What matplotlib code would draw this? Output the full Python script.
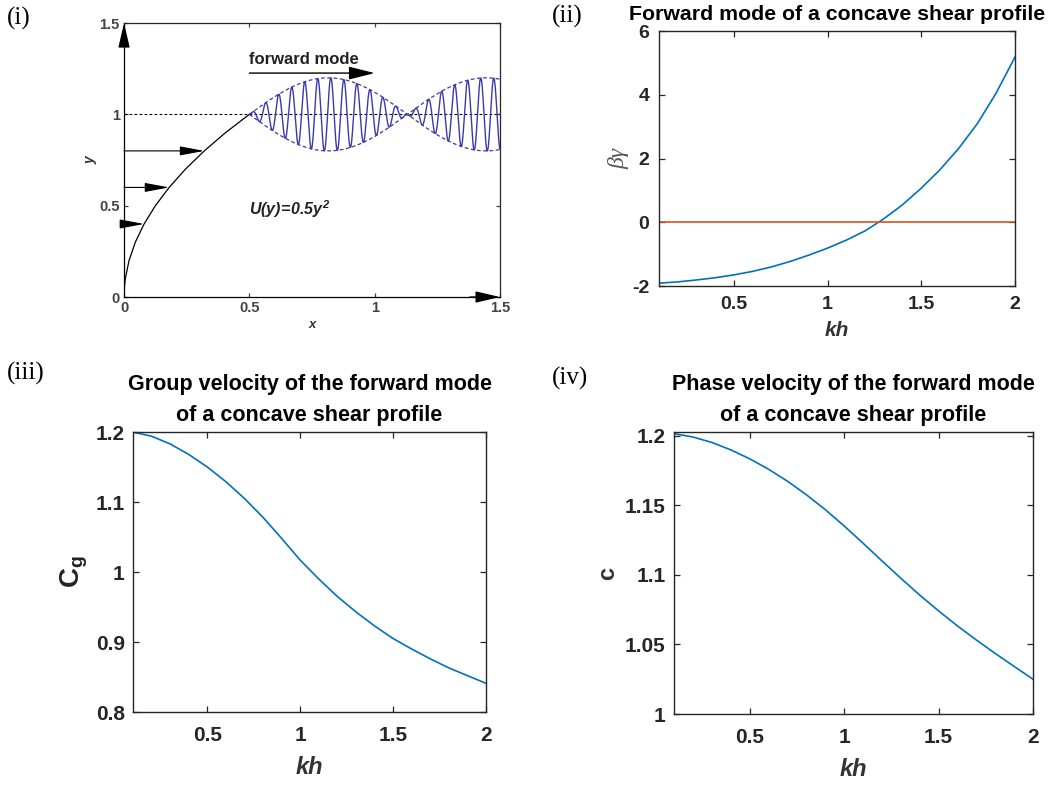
import numpy as np
import matplotlib.pyplot as plt

plt.rcParams['font.family'] = ['Liberation Sans', 'DejaVu Sans']
plt.rcParams['mathtext.fontset'] = 'custom'
plt.rcParams['mathtext.rm'] = 'Liberation Sans:italic:bold'
plt.rcParams['mathtext.it'] = 'Liberation Sans:italic:bold'
plt.rcParams['mathtext.bf'] = 'Liberation Sans:bold'

TICKC = '#262626'
BLUE = '#0072BD'
ORANGE = '#D95319'
WAVE = '#3a3aac'

# ---- panel (i): shear profile sketch ----
prof_y = [0.0, 0.05, 0.1, 0.2, 0.3, 0.4, 0.5, 0.6, 0.7, 0.8, 0.9, 1.0]
prof_x = [0.0, 0.00125, 0.005, 0.02, 0.045, 0.08, 0.125, 0.18, 0.245, 0.32, 0.405, 0.5]
arrow_y = [0.4, 0.6, 0.8]
arrow_x = [0.08, 0.18, 0.32]
i_ticks = [0, 0.5, 1, 1.5]
i_ticklabels = ['0', '0.5', '1', '1.5']
# wave packet parameters
pkt_start = 0.5
pkt_node = 1.13
pkt_amp = 0.2
pkt_wavelen = 0.052

# ---- panels (ii)-(iv) ----
kh = [0.1, 0.2, 0.3, 0.4, 0.5, 0.6, 0.7, 0.8, 0.9, 1.0,
      1.1, 1.2, 1.3, 1.4, 1.5, 1.6, 1.7, 1.8, 1.9, 2.0]
beta_gamma = [-1.91, -1.87, -1.81, -1.74, -1.65, -1.54, -1.40, -1.23, -1.03, -0.81,
              -0.56, -0.27, 0.11, 0.55, 1.07, 1.65, 2.32, 3.10, 4.06, 5.18]
group_vel = [1.200, 1.194, 1.183, 1.168, 1.150, 1.129, 1.105, 1.078, 1.048, 1.017,
             0.990, 0.965, 0.943, 0.923, 0.905, 0.890, 0.876, 0.863, 0.852, 0.841]
phase_vel = [1.2014, 1.1990, 1.1951, 1.1898, 1.1834, 1.1759, 1.1673, 1.1576, 1.1469, 1.1352,
             1.1228, 1.1101, 1.0976, 1.0855, 1.0741, 1.0633, 1.0532, 1.0435, 1.0342, 1.0250]
kh_ticks = [0.5, 1, 1.5, 2]
kh_ticklabels = ['0.5', '1', '1.5', '2']
bg_ticks = [-2, 0, 2, 4, 6]
cg_ticks = [0.8, 0.9, 1.0, 1.1, 1.2]
cg_ticklabels = ['0.8', '0.9', '1', '1.1', '1.2']
c_ticks = [1.0, 1.05, 1.1, 1.15, 1.2]
c_ticklabels = ['1', '1.05', '1.1', '1.15', '1.2']


def matlab_box(ax, lw=1.0, pad=5):
    for s in ax.spines.values():
        s.set_color(TICKC)
        s.set_linewidth(lw)
    ax.tick_params(direction='in', top=True, right=True, length=4,
                   width=0.9, colors=TICKC, pad=pad)


def bold_ticks(ax, size):
    for lab in ax.get_xticklabels() + ax.get_yticklabels():
        lab.set_fontweight('bold')
        lab.set_fontsize(size)


fig = plt.figure(figsize=(10.61, 7.86), dpi=100)

# (i)
ax1 = fig.add_axes([0.1169, 0.6221, 0.3544, 0.3486])
ax1.set_xlim(0, 1.5)
ax1.set_ylim(0, 1.5)
matlab_box(ax1, lw=0.9)
ax1.spines['left'].set_color('k')
ax1.spines['bottom'].set_color('k')
ax1.set_xticks(i_ticks, i_ticklabels)
ax1.set_yticks(i_ticks, i_ticklabels)
bold_ticks(ax1, 10.5)
ax1.tick_params(length=3, pad=3)
ax1.tick_params(axis='y', colors='#444444')
ax1.tick_params(axis='x', colors='#444444')
ax1.plot(prof_x, prof_y, color='k', lw=0.9)
ax1.plot([0, 1.5], [1, 1], color='k', lw=0.8, ls=(0, (2.5, 2)))
for xa, ya in zip(arrow_x, arrow_y):
    ax1.annotate('', xy=(xa, ya), xytext=(0, ya),
                 arrowprops=dict(arrowstyle='-|>,head_length=1.5,head_width=0.28',
                                 color='k', lw=0.8, shrinkA=0, shrinkB=0,
                                 mutation_scale=10))
for xy, xyt in [((0, 1.5), (0, 1.38)), ((1.5, 0), (1.38, 0))]:
    ax1.annotate('', xy=xy, xytext=xyt, annotation_clip=False,
                 arrowprops=dict(arrowstyle='-|>,head_length=1.5,head_width=0.35',
                                 color='k', lw=1.0, shrinkA=0, shrinkB=0,
                                 mutation_scale=10))
wx = np.linspace(pkt_start, 1.5, 3000)
env = pkt_amp * np.sin(np.pi * (wx - pkt_start) / (pkt_node - pkt_start))
ax1.plot(wx, 1 + env * np.sin(2 * np.pi * (wx - pkt_start) / pkt_wavelen),
         color=WAVE, lw=1.0)
ax1.plot(wx, 1 + env, color=WAVE, lw=0.9, ls=(0, (3, 2)))
ax1.plot(wx, 1 - env, color=WAVE, lw=0.9, ls=(0, (3, 2)))
ax1.annotate('', xy=(1.0, 1.226), xytext=(0.5, 1.226),
             arrowprops=dict(arrowstyle='-|>,head_length=1.6,head_width=0.4',
                             color='k', lw=1.0, shrinkA=0, shrinkB=0,
                             mutation_scale=10))
ax1.text(0.5, 1.3, 'forward mode', fontsize=12, fontweight='bold', color='#222222',
         ha='left', va='center')
ax1.text(0.5, 0.48, r'$U(y)\!=\!0.5y^2$', fontsize=11.5, color='#222222',
         ha='left', va='center')
ax1.set_xlabel('x', fontsize=9.5, fontweight='bold', style='italic', labelpad=3,
               color='#333333')
ax1.set_ylabel('y', fontsize=10, fontweight='bold', style='italic', labelpad=1,
               color='#333333')

# (ii)
ax2 = fig.add_axes([0.6211, 0.6361, 0.3355, 0.3244])
ax2.plot(kh, beta_gamma, color=BLUE, lw=1.2)
ax2.plot([kh[0], kh[-1]], [0, 0], color=ORANGE, lw=1.2)
ax2.set_xlim(0.1, 2)
ax2.set_ylim(-2, 6)
matlab_box(ax2, pad=7)
ax2.set_xticks(kh_ticks, kh_ticklabels)
ax2.set_yticks(bg_ticks, [str(t) for t in bg_ticks])
bold_ticks(ax2, 14)
ax2.set_title('Forward mode of a concave shear profile', fontsize=15.3,
              fontweight='bold', pad=8)
ax2.set_xlabel('kh', fontsize=15, fontweight='bold', style='italic', labelpad=6,
               color='#333333')
ax2.set_ylabel('βγ', fontsize=17, family='Liberation Serif', style='italic',
               color='#555555', labelpad=2)

# (iii)
ax3 = fig.add_axes([0.1254, 0.0941, 0.3327, 0.3562])
ax3.plot(kh, group_vel, color=BLUE, lw=1.2)
ax3.set_xlim(0.1, 2)
ax3.set_ylim(0.8, 1.2)
matlab_box(ax3, pad=6)
ax3.tick_params(axis='x', pad=10)
ax3.set_xticks(kh_ticks, kh_ticklabels)
ax3.set_yticks(cg_ticks, cg_ticklabels)
bold_ticks(ax3, 15)
ax3.set_title('Group velocity of the forward mode\nof a concave shear profile',
              fontsize=15.5, fontweight='bold', pad=8, linespacing=1.6)
ax3.set_xlabel('kh', fontsize=17, fontweight='bold', style='italic', labelpad=8,
               color='#333333')
ax3.set_ylabel(r'$\mathbf{C_g}$', fontsize=20, labelpad=4, color='#222222')

# (iv)
ax4 = fig.add_axes([0.6352, 0.0916, 0.3384, 0.3588])
ax4.plot(kh, phase_vel, color=BLUE, lw=1.2)
ax4.set_xlim(0.1, 2)
ax4.set_ylim(1.0, 1.2026)
matlab_box(ax4, pad=6)
ax4.tick_params(axis='x', pad=10)
ax4.set_xticks(kh_ticks, kh_ticklabels)
ax4.set_yticks(c_ticks, c_ticklabels)
bold_ticks(ax4, 15)
ax4.set_title('Phase velocity of the forward mode\nof a concave shear profile',
              fontsize=15.5, fontweight='bold', pad=8, linespacing=1.6)
ax4.set_xlabel('kh', fontsize=17, fontweight='bold', style='italic', labelpad=8,
               color='#333333')
ax4.set_ylabel('c', fontsize=17, fontweight='bold', labelpad=4, color='#333333')

# panel tags
for x, y, tag in [(7, 18, '(i)'), (552, 16, '(ii)'), (7, 373, '(iii)'), (552, 378, '(iv)')]:
    fig.text(x / 1061, 1 - y / 786, tag, family='Liberation Serif', fontsize=18,
             ha='left', va='center')

fig.savefig('out.png', dpi=100)
